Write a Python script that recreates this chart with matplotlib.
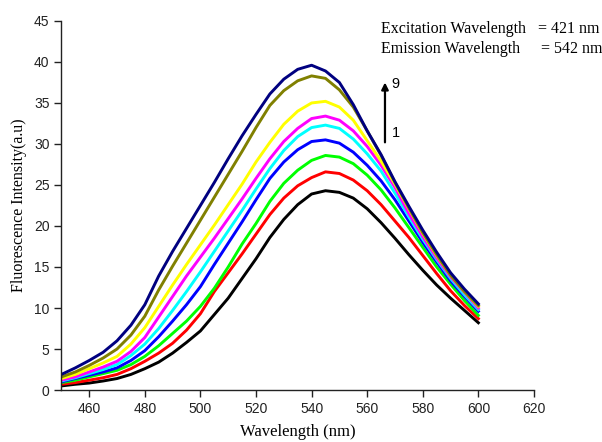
import matplotlib
matplotlib.use("Agg")
import matplotlib.pyplot as plt

# wavelength grid (nm)
wavelength = [450, 455, 460, 465, 470, 475, 480, 485, 490, 495, 500, 505, 510, 515, 520, 525,
              530, 535, 540, 545, 550, 555, 560, 565, 570, 575, 580, 585, 590, 595, 600]

# fluorescence intensity, spectra 1 .. 9
s1 = [0.5, 0.7, 0.85, 1.1, 1.4, 1.9, 2.6, 3.4, 4.5, 5.8, 7.2, 9.2, 11.2, 13.6, 16.0, 18.6,
      20.8, 22.6, 23.9, 24.3, 24.1, 23.4, 22.1, 20.4, 18.5, 16.5, 14.6, 12.8, 11.2, 9.7, 8.2]
s2 = [0.7, 0.9, 1.2, 1.5, 1.9, 2.6, 3.5, 4.5, 5.7, 7.3, 9.3, 12.0, 14.3, 16.6, 19.0, 21.4,
      23.4, 24.9, 25.9, 26.6, 26.4, 25.6, 24.3, 22.6, 20.6, 18.6, 16.4, 14.2, 12.1, 10.3, 8.7]
s3 = [0.9, 1.2, 1.6, 2.0, 2.4, 3.1, 4.1, 5.4, 6.9, 8.4, 10.2, 12.4, 15.0, 17.8, 20.3, 23.0,
      25.2, 26.8, 28.0, 28.6, 28.4, 27.6, 26.2, 24.4, 22.2, 19.8, 17.4, 15.0, 12.9, 10.9, 9.1]
s4 = [1.0, 1.4, 1.8, 2.2, 2.7, 3.6, 4.8, 6.5, 8.4, 10.4, 12.6, 15.3, 17.9, 20.5, 23.2, 25.8,
      27.8, 29.3, 30.3, 30.5, 30.1, 29.0, 27.4, 25.5, 23.2, 20.6, 18.0, 15.6, 13.3, 11.4, 9.6]
s5 = [1.1, 1.5, 2.0, 2.5, 3.1, 4.2, 5.6, 7.5, 9.7, 12.0, 14.4, 16.9, 19.4, 21.9, 24.5, 27.0,
      29.2, 30.9, 32.0, 32.3, 31.9, 30.6, 28.8, 26.7, 24.0, 21.1, 18.4, 15.9, 13.6, 11.6, 9.8]
s6 = [1.2, 1.6, 2.2, 2.8, 3.5, 4.7, 6.4, 8.9, 11.4, 13.9, 16.2, 18.5, 20.9, 23.3, 25.8, 28.2,
      30.3, 31.9, 33.1, 33.4, 32.9, 31.6, 29.7, 27.4, 24.7, 21.5, 18.7, 16.1, 13.8, 11.9, 10.0]
s7 = [1.4, 1.9, 2.6, 3.3, 4.1, 5.6, 7.6, 10.2, 12.8, 15.3, 17.7, 20.1, 22.6, 25.1, 27.8, 30.2,
      32.4, 34.0, 35.0, 35.2, 34.5, 32.9, 30.4, 27.9, 25.1, 22.1, 19.1, 16.4, 14.0, 12.0, 10.2]
s8 = [1.6, 2.2, 3.0, 3.9, 5.0, 6.7, 9.0, 12.2, 15.1, 17.9, 20.7, 23.5, 26.3, 29.1, 32.0, 34.7,
      36.5, 37.7, 38.3, 38.0, 36.6, 34.5, 31.6, 28.6, 25.3, 22.2, 19.2, 16.5, 14.0, 12.0, 10.3]
s9 = [1.9, 2.7, 3.6, 4.6, 6.0, 7.9, 10.4, 13.9, 16.9, 19.7, 22.5, 25.3, 28.2, 31.0, 33.6, 36.1,
      37.9, 39.1, 39.6, 38.9, 37.5, 34.8, 31.6, 28.7, 25.4, 22.4, 19.5, 16.8, 14.3, 12.3, 10.5]

series = [s1, s2, s3, s4, s5, s6, s7, s8, s9]
colors = ['#000000', '#ff0000', '#00ff00', '#0000ff', '#00ffff',
          '#ff00ff', '#ffff00', '#808000', '#000080']

fig = plt.figure(figsize=(6.02, 4.42), dpi=100)
ax = fig.add_axes([0.102, 0.1176, 0.785, 0.835])

for y, c in zip(series, colors):
    ax.plot(wavelength, y, color=c, linewidth=2.1)

ax.set_xlim(450, 620)
ax.set_ylim(0, 45)
ax.set_xticks(range(460, 621, 20))
ax.set_yticks(range(0, 46, 5))
ax.spines['top'].set_visible(False)
ax.spines['right'].set_visible(False)
for sp in ['left', 'bottom']:
    ax.spines[sp].set_linewidth(1.0)
    ax.spines[sp].set_color('#222222')
ax.tick_params(direction='out', length=5, width=1.0, colors='#222222',
               labelsize=10, labelcolor='#222222')
for lab in ax.get_xticklabels() + ax.get_yticklabels():
    lab.set_family('Liberation Sans')

ax.set_xlabel('Wavelength (nm)', family='Liberation Serif', fontsize=12, labelpad=6)
ax.set_ylabel('Fluorescence Intensity(a.u)', family='Liberation Serif', fontsize=11.5, labelpad=5)

# annotation text
fig.text(381 / 602, 1 - 29 / 442, 'Excitation Wavelength', family='Liberation Serif',
         fontsize=11.5, va='center', ha='left')
fig.text(538 / 602, 1 - 29 / 442, '= 421 nm', family='Liberation Serif',
         fontsize=11.5, va='center', ha='left')
fig.text(381 / 602, 1 - 49 / 442, 'Emission Wavelength', family='Liberation Serif',
         fontsize=11.5, va='center', ha='left')
fig.text(541 / 602, 1 - 49 / 442, '= 542 nm', family='Liberation Serif',
         fontsize=11.5, va='center', ha='left')

# arrow 1 -> 9
ax.annotate('', xy=(566.4, 37.5), xytext=(566.4, 30.2),
            arrowprops=dict(arrowstyle='-|>', color='black', lw=1.6,
                            mutation_scale=10, shrinkA=0, shrinkB=0))
ax.text(568.8, 37.3, '9', family='Liberation Sans', fontsize=10.5, va='center')
ax.text(568.8, 31.3, '1', family='Liberation Sans', fontsize=10.5, va='center')

fig.savefig('out.png', dpi=100)
